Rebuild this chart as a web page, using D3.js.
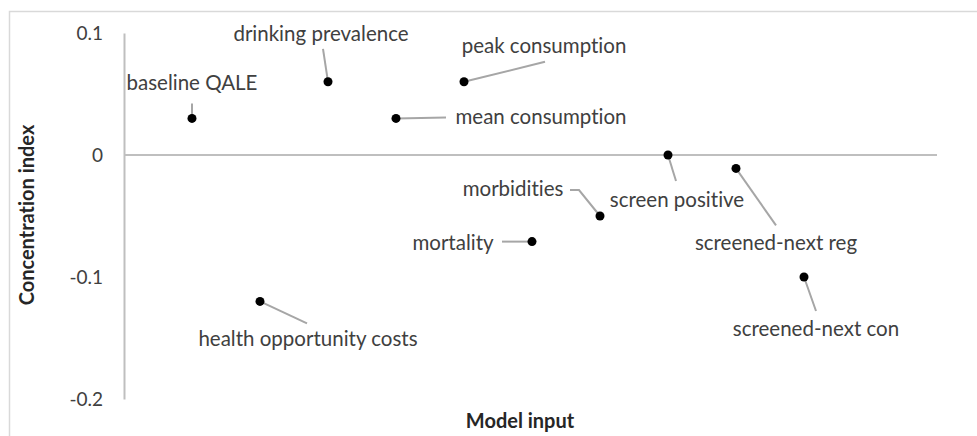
<!DOCTYPE html>
<html>
<head>
<meta charset="utf-8">
<script src="https://cdnjs.cloudflare.com/ajax/libs/d3/7.8.5/d3.min.js"></script>
<style>
  body { margin: 0; background: #fff; }
  svg { display: block; font-family: Lato, "Open Sans", sans-serif; font-variant-ligatures: none; }
</style>
</head>
<body>
<svg id="chart"></svg>
<script>
// chart data
var inputs = ["baseline QALE", "health opportunity costs", "drinking prevalence", "mean consumption",
  "peak consumption", "mortality", "morbidities", "screen positive", "screened-next reg", "screened-next con"];
var concIndex = [0.03, -0.12, 0.06, 0.03, 0.06, -0.071, -0.05, 0, -0.011, -0.1];
var yTicks = [-0.2, -0.1, 0, 0.1];

// label placement relative to each point (px): text centre dx, baseline dy, leader end lx, ly
var labelPos = [
  { dx: 0, dy: -28, lx: 0, ly: -15 },
  { dx: 48, dy: 45, lx: 47, ly: 22 },
  { dx: -7, dy: -41, lx: -5, ly: -33 },
  { dx: 145, dy: 6, lx: 50, ly: -1 },
  { dx: 80, dy: -29, lx: 81, ly: -20 },
  { dx: -79, dy: 8, lx: -30, ly: 0 },
  { dx: -87, dy: -20, lx: -21, ly: -26, bend: -30 },
  { dx: 9, dy: 52, lx: 8, ly: 26 },
  { dx: 40, dy: 82, lx: 40, ly: 57 },
  { dx: 12, dy: 59, lx: 12, ly: 34 }
];

var width = 977, height = 436;
var svg = d3.select("#chart")
    .attr("width", width)
    .attr("height", height);

// outer chart border
svg.append("rect")
    .attr("x", 9.5)
    .attr("y", 11.5)
    .attr("width", 980)
    .attr("height", 440)
    .attr("fill", "none")
    .attr("stroke", "#d9d9d9")
    .attr("stroke-width", 1.5);

var x = d3.scaleLinear().domain([0, 12]).range([124, 940]);
var y = d3.scaleLinear().domain([-0.2, 0.1]).range([399, 33]);

// y axis
var yAxis = svg.append("g")
    .attr("transform", "translate(124,0)")
    .call(d3.axisLeft(y).tickValues(yTicks).tickSize(0).tickPadding(21)
      .tickFormat(function (d) { return d === 0 ? "0" : d.toFixed(1); }));
yAxis.select(".domain").attr("stroke", "#bfbfbf").attr("stroke-width", 2);
yAxis.selectAll("text")
    .attr("font-size", "19px")
    .attr("font-family", "Lato, sans-serif")
    .attr("fill", "#404040");

// zero line
svg.append("line")
    .attr("x1", x(0))
    .attr("x2", 937)
    .attr("y1", y(0))
    .attr("y2", y(0))
    .attr("stroke", "#bfbfbf")
    .attr("stroke-width", 2);

// leader lines
inputs.forEach(function (name, i) {
  var p = labelPos[i];
  var px = x(i + 1), py = y(concIndex[i]);
  var pts = [[px, py], [px + p.lx, py + p.ly]];
  if (p.bend) pts.push([px + p.bend, py + p.ly]);
  svg.append("path")
      .attr("d", d3.line()(pts))
      .attr("fill", "none")
      .attr("stroke", "#a6a6a6")
      .attr("stroke-width", 2);
});

// points
svg.selectAll("circle.pt")
    .data(concIndex)
    .join("circle")
    .attr("class", "pt")
    .attr("cx", function (d, i) { return x(i + 1); })
    .attr("cy", function (d) { return y(d); })
    .attr("r", 4.5)
    .attr("fill", "#000");

// data labels
svg.selectAll("text.lbl")
    .data(inputs)
    .join("text")
    .attr("class", "lbl")
    .attr("x", function (d, i) { return x(i + 1) + labelPos[i].dx; })
    .attr("y", function (d, i) { return y(concIndex[i]) + labelPos[i].dy; })
    .attr("text-anchor", "middle")
    .attr("font-size", "20.5px")
    .attr("fill", "#404040")
    .text(function (d) { return d; });

// axis titles
svg.append("text")
    .attr("x", 520)
    .attr("y", 428)
    .attr("text-anchor", "middle")
    .attr("font-size", "20px")
    .attr("font-weight", "bold")
    .attr("fill", "#262626")
    .text("Model input");

svg.append("text")
    .attr("transform", "translate(34,215) rotate(-90)")
    .attr("text-anchor", "middle")
    .attr("font-size", "20px")
    .attr("font-weight", "bold")
    .attr("fill", "#262626")
    .text("Concentration index");
</script>
</body>
</html>
